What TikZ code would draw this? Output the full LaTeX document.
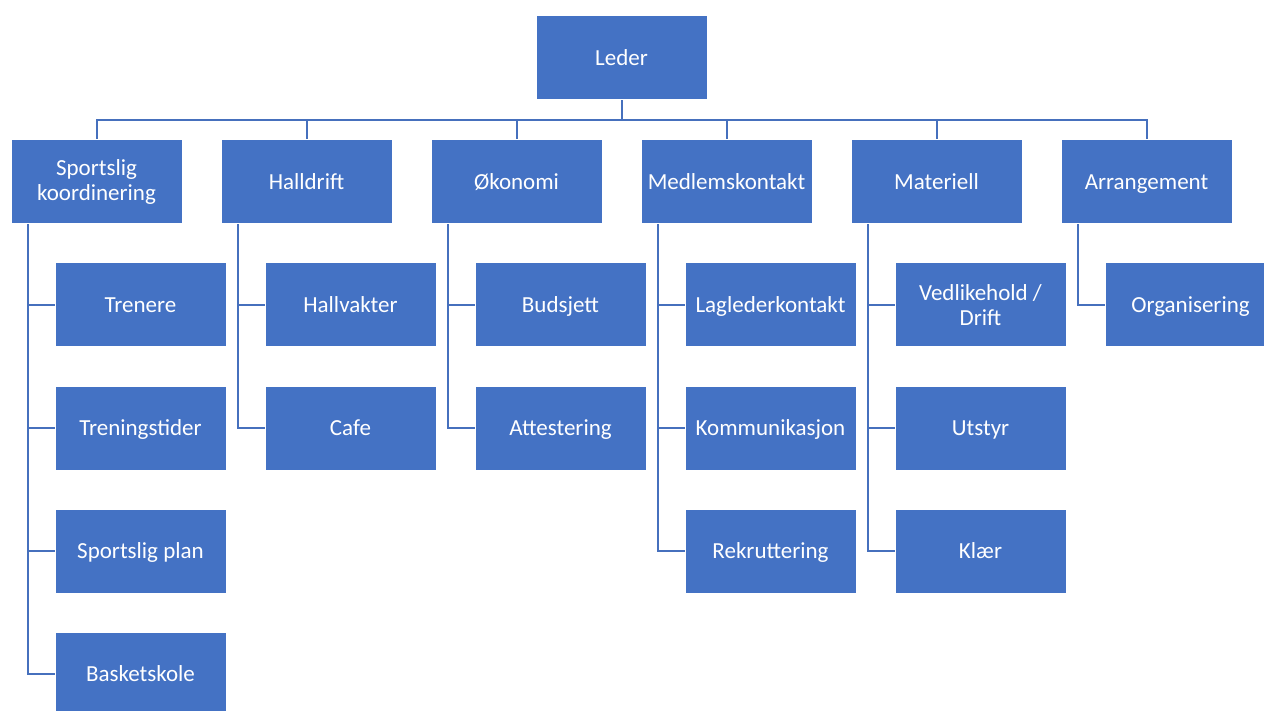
\documentclass[tikz,border=0pt]{standalone}
\usepackage{fontspec}
\setmainfont{Carlito}
\definecolor{boksblaa}{HTML}{4472C4}
\definecolor{linjeblaa}{HTML}{4670BD}
\tikzset{
  boks/.style={rectangle, fill=boksblaa, draw=white, line width=0.5pt,
    minimum width=85.5pt, minimum height=42pt, inner sep=0pt,
    text height=7.4pt, text depth=0pt,
    text=white, align=center, font=\fontsize{11.5}{12.5}\selectfont},
  tolinjer/.style={text height={}, text depth={}},
  linje/.style={draw=linjeblaa, line width=1pt},
}
\begin{document}
\begin{tikzpicture}[x=0.5pt, y=-0.5pt]
  \clip (0,0) rectangle (1264,711);
  \fill[white] (0,0) rectangle (1264,711);

  % Toppnivaa
  \node[boks] (leder) at (621.5, 58) {Leder};

  % Andre nivaa
  \node[boks, tolinjer] (sport) at (96.5, 182) {Sportslig\\koordinering};
  \node[boks] (hall)  at (306.5, 182) {Halldrift};
  \node[boks] (oko)   at (516.5, 182) {Økonomi};
  \node[boks] (medl)  at (726.5, 182) {Medlemskontakt};
  \node[boks] (mat)   at (936.5, 182) {Materiell};
  \node[boks] (arr)   at (1146.5, 182) {Arrangement};

  % Sportslig koordinering
  \node[boks] (trenere)  at (140.5, 305) {Trenere};
  \node[boks] (tider)    at (140.5, 428) {Treningstider};
  \node[boks] (plan)     at (140.5, 551) {Sportslig plan};
  \node[boks] (basket)   at (140.5, 674) {Basketskole};

  % Halldrift
  \node[boks] (vakter) at (350.5, 305) {Hallvakter};
  \node[boks] (cafe)   at (350.5, 428) {Cafe};

  % Økonomi
  \node[boks] (budsjett) at (560.5, 305) {Budsjett};
  \node[boks] (attest)   at (560.5, 428) {Attestering};

  % Medlemskontakt
  \node[boks] (lagleder) at (770.5, 305) {Laglederkontakt};
  \node[boks] (komm)     at (770.5, 428) {Kommunikasjon};
  \node[boks] (rekrutt)  at (770.5, 551) {Rekruttering};

  % Materiell
  \node[boks, tolinjer] (drift)  at (980.5, 305) {Vedlikehold /\\Drift};
  \node[boks] (utstyr) at (980.5, 428) {Utstyr};
  \node[boks] (klaer)  at (980.5, 551) {Klær};

  % Arrangement
  \node[boks] (org) at (1190.5, 305) {Organisering};

  % Linjer fra leder
  \draw[linje] (leder.south) -- ++(0,20) coordinate (buss);
  \foreach \n in {sport, hall, oko, medl, mat, arr}
    \draw[linje] (buss) -| (\n.north);

  % Linjer til underenheter
  \foreach \p/\c in {sport/trenere, sport/tider, sport/plan, sport/basket,
                     hall/vakter, hall/cafe, oko/budsjett, oko/attest,
                     medl/lagleder, medl/komm, medl/rekrutt,
                     mat/drift, mat/utstyr, mat/klaer, arr/org}
    \draw[linje] ([xshift=8.5pt]\p.south west) |- (\c.west);
\end{tikzpicture}
\end{document}
